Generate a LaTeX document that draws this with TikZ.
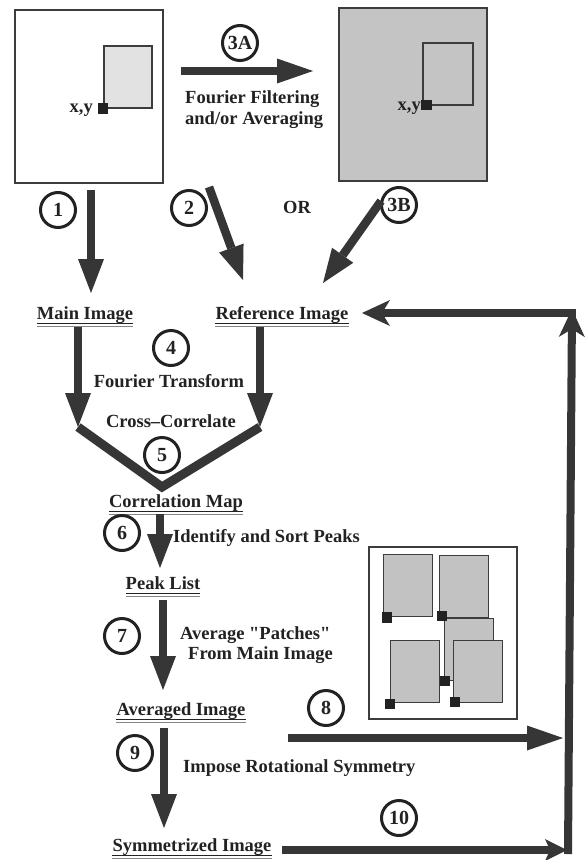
\documentclass[tikz,border=0pt]{standalone}
\usepackage{fontspec}
\setmainfont{Liberation Serif}[Ligatures=TeXOff]
\usetikzlibrary{arrows.meta}
\definecolor{ink}{HTML}{222222}
\definecolor{arr}{HTML}{363636}
\definecolor{lightfill}{HTML}{E2E2E2}
\definecolor{midfill}{HTML}{C4C4C4}
\definecolor{patchfill}{HTML}{C2C2C2}
\definecolor{edge}{HTML}{3C3C3C}
\begin{document}
\begin{tikzpicture}[x=1pt,y=-1pt,
  lbl/.style={font=\fontsize{18.5}{18.5}\selectfont\bfseries, text=ink, inner sep=0pt},
  num/.style={circle, draw=ink, line width=3pt, minimum size=35pt, inner sep=0pt,
              font=\fontsize{20}{20}\selectfont\bfseries, text=ink},
  fat/.style={draw=arr, line width=8.5pt, -{Triangle[length=34pt, width=26pt, line width=0pt]}},
  fatr/.style={draw=arr, line width=8.5pt, -{Triangle[length=36pt, width=25pt, line width=0pt]}},
  feed/.style={draw=arr, line width=8pt, -{Stealth[length=28pt, width=26pt, inset=8pt, line width=0pt]}},
  thin/.style={draw=arr, line width=7.5pt, -{Stealth[length=22pt, width=22pt, inset=5pt, line width=0pt]}},
  vee/.style={draw=arr, line width=9pt, line join=miter},
  frame/.style={draw=edge, line width=1.3pt, inner sep=0pt},
  win/.style={draw=edge, line width=1.2pt, inner sep=0pt},
  patch/.style={draw=edge, line width=1pt, fill=patchfill, inner sep=0pt, minimum width=49pt, minimum height=62pt},
  sq/.style={fill=ink, inner sep=0pt, minimum size=10.5pt},
  ulA/.style={draw=ink, line width=1pt},
  ulB/.style={draw=ink!55, line width=1pt}
]
\useasboundingbox[fill=white] (0,0) rectangle (585,860);

% ---------- top-left image ----------
\node[frame, fill=white, minimum width=148pt, minimum height=173pt] (imgL) at (89,96.5) {};
\node[win, fill=lightfill, minimum width=48pt, minimum height=62pt] (winL) at (128,77) {};
\node[sq] (sqL) at (103,108.5) {};
\node[lbl, anchor=base east] (xyL) at (93,112) {x,y};

% ---------- top-right image ----------
\node[frame, fill=midfill, minimum width=148pt, minimum height=173pt] (imgR) at (413,94.5) {};
\node[win, minimum width=50pt, minimum height=62pt] (winR) at (448,74) {};
\node[sq] (sqR) at (426.5,105) {};
\node[lbl, anchor=base east] (xyR) at (421,110) {x,y};

% ---------- step 3A ----------
\node[num] (n3A) at (240,43) {3A};
\coordinate (a3As) at (181,71);
\coordinate (a3Ae) at (313,71);
\draw[fatr] (a3As) -- (a3Ae);
\node[lbl, anchor=base west] (ff1) at (185,103) {Fourier Filtering};
\node[lbl, anchor=base west] (ff2) at (185,124) {and/or Averaging};

% ---------- steps 1, 2, 3B ----------
\node[num] (n1) at (58,210) {1};
\node[num] (n2) at (189,208) {2};
\node[lbl, anchor=base] (or) at (297,213) {OR};
\node[num] (n3B) at (399,205) {3B};

\coordinate (a1s) at (91,190);   \coordinate (a1e) at (91,293);
\coordinate (a2s) at (209,187);  \coordinate (a2e) at (243,280);
\coordinate (a3Bs) at (381,201); \coordinate (a3Be) at (323,283);
\draw[fat] (a1s) -- (a1e);
\draw[fat] (a2s) -- (a2e);
\draw[fat] (a3Bs) -- (a3Be);

% ---------- labels ----------
\node[lbl, anchor=base] (main) at (85,319) {Main Image};
\node[lbl, anchor=base] (ref) at (282,319) {Reference Image};
\node[lbl, anchor=base] (corr) at (176,507) {Correlation Map};
\node[lbl, anchor=base] (peak) at (163,589) {Peak List};
\node[lbl, anchor=base] (avg) at (181,715) {Averaged Image};
\node[lbl, anchor=base] (sym) at (192,851) {Symmetrized Image};
\foreach \n in {main,ref,corr,peak,avg,sym}{
  \draw[ulA] ([yshift=-4pt]\n.base west) -- ([yshift=-4pt]\n.base east);
  \draw[ulB] ([yshift=-7pt]\n.base west) -- ([yshift=-7pt]\n.base east);
}

% ---------- steps 4, 5 ----------
\node[num] (n4) at (171,348) {4};
\node[lbl, anchor=base] (ft) at (169,387) {Fourier Transform};
\node[lbl, anchor=base] (cc) at (171,427) {Cross–Correlate};
\node[num] (n5) at (162,455) {5};

\coordinate (aLs) at (78,327);  \coordinate (aLe) at (78,427);
\coordinate (aRs) at (260,327); \coordinate (aRe) at (260,427);
\coordinate (vb) at (162,487);
\draw[vee] (aLe) -- (vb) -- (aRe);
\draw[fat] (aLs) -- (aLe);
\draw[fat] (aRs) -- (aRe);

% ---------- step 6 ----------
\node[num] (n6) at (122,533) {6};
\coordinate (a6s) at (160,514); \coordinate (a6e) at (160,568);
\draw[fat] (a6s) -- (a6e);
\node[lbl, anchor=base west] (isp) at (173,542) {Identify and Sort Peaks};

% ---------- step 7 ----------
\node[num] (n7) at (122,636) {7};
\coordinate (a7s) at (163,600); \coordinate (a7e) at (163,690);
\draw[fat] (a7s) -- (a7e);
\node[lbl, anchor=base west] (ap1) at (180,639) {Average "Patches"};
\node[lbl, anchor=base west] (ap2) at (188,659) {From Main Image};

% ---------- patches picture ----------
\node[frame, fill=white, minimum width=148pt, minimum height=172pt] (pbox) at (443,633) {};
\node[patch] (p3) at (468.5,649) {};
\node[sq] (s3) at (444.5,681) {};
\node[patch] (p1) at (407.5,585.5) {};
\node[sq] (s1) at (387,617.5) {};
\node[patch] (p2) at (463.5,586) {};
\node[sq] (s2) at (442,616) {};
\node[patch] (p4) at (415,671) {};
\node[sq] (s4) at (390,704) {};
\node[patch] (p5) at (477.5,671) {};
\node[sq] (s5) at (455,702) {};

% ---------- steps 8, 9, 10 ----------
\node[num] (n8) at (326,708) {8};
\coordinate (a8s) at (288,738); \coordinate (a8e) at (563,738);
\draw[fatr] (a8s) -- (a8e);

\node[num] (n9) at (135,753) {9};
\coordinate (a9s) at (164,728); \coordinate (a9e) at (164,828);
\draw[fat] (a9s) -- (a9e);
\node[lbl, anchor=base west] (irs) at (183,772) {Impose Rotational Symmetry};

\node[num] (n10) at (399,818) {10};
\coordinate (a10s) at (282,850); \coordinate (a10e) at (567,850);
\draw[thin] (a10s) -- (a10e);

% ---------- feedback loop ----------
\coordinate (vbot) at (568,854);
\coordinate (vtop) at (572,309);
\coordinate (corner) at (575.5,313);
\coordinate (refend) at (362,313);
\draw[feed] (vbot) -- (vtop);
\draw[feed] (corner) -- (refend);
\end{tikzpicture}
\end{document}
